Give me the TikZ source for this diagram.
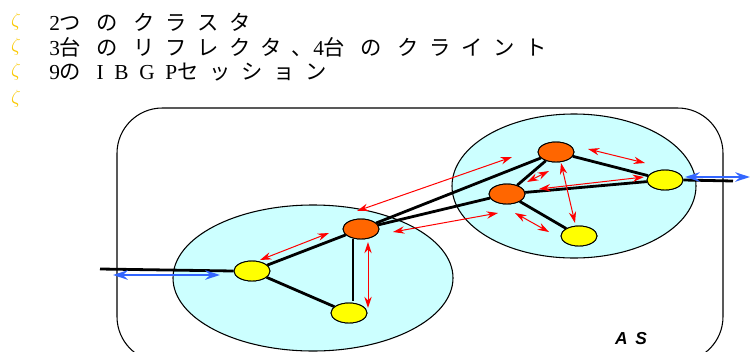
\documentclass[tikz,border=0pt]{standalone}
\usepackage{fontspec}
\setmainfont{Liberation Serif}
\newfontfamily\jp[LetterSpace=50]{Noto Sans CJK JP}
\newfontfamily\lat[LetterSpace=50]{Liberation Serif}
\newfontfamily\sanslabel[LetterSpace=45]{Liberation Sans}
\usepackage{xcolor}
\usetikzlibrary{arrows.meta,shapes.geometric}
\definecolor{clusterfill}{RGB}{204,255,255}
\definecolor{rrorange}{RGB}{255,102,0}
\definecolor{clientyel}{RGB}{255,255,0}
\definecolor{ebgpblue}{RGB}{51,102,255}
\definecolor{bulletc}{RGB}{250,200,0}
\tikzset{
  cluster/.style={draw,ellipse,fill=clusterfill,line width=0.8pt,inner sep=0pt},
  rr/.style={draw,ellipse,fill=rrorange,line width=0.7pt,inner sep=0pt,minimum width=27pt,minimum height=15pt},
  client/.style={draw,ellipse,fill=clientyel,line width=0.7pt,inner sep=0pt,minimum width=27pt,minimum height=15pt},
  link/.style={line width=2.1pt},
  ibgp/.style={red,line width=0.75pt,{Stealth[length=8.5pt,width=5.5pt]}-{Stealth[length=8.5pt,width=5.5pt]}},
  ebgp/.style={ebgpblue,line width=1.8pt,{Stealth[length=11pt,width=7pt]}-{Stealth[length=11pt,width=7pt]}},
  txt/.style={anchor=west,inner sep=0pt,font=\fontsize{16pt}{19pt}\selectfont},
}

\begin{document}
\begin{tikzpicture}[x=0.75pt,y=-0.75pt]
  \useasboundingbox (0,0) rectangle (750,351);
  \clip (0,0) rectangle (750,351);
  % bullets and text
  \foreach \yy/\nm in {22/b1,47/b2,72/b3,99/b4}
    \node[inner sep=0pt,text=bulletc,font=\fontsize{15pt}{18pt}\selectfont] (\nm) at (16,\yy) {$\zeta$};
  \node[txt] (t1) at (49,22) {\lat 2\jp つ の クラスタ};
  \node[txt] (t2) at (49,47) {\lat 3\jp 台 の リフレクタ、\lat 4\jp 台 の クライント};
  \node[txt] (t3) at (49,72) {\lat 9\jp の \lat IBGP\jp セッション};
  % AS
  \draw[line width=0.8pt,rounded corners=34pt] (117,108) rectangle (723,362);
  \node[font=\sanslabel\bfseries\itshape\fontsize{13pt}{15pt}\selectfont] (as) at (631,339) {AS};
  % clusters
  \node[cluster,minimum width=210pt,minimum height=109.5pt] (clA) at (313,278) {};
  \node[cluster,minimum width=183pt,minimum height=108pt] (clB) at (574,186) {};
  % routers
  \node[rr] (rA) at (361,229) {};
  \node[client] (cA1) at (252,271) {};
  \node[client] (cA2) at (349,313) {};
  \node[rr] (rB1) at (556,152) {};
  \node[rr] (rB2) at (507,194) {};
  \node[client] (cB1) at (665,180) {};
  \node[client] (cB2) at (579,236) {};
  \coordinate (extL) at (100,269);
  \coordinate (extR) at (733,181);
  % physical links
  \draw[link] (extL) -- (cA1.west);
  \draw[link] (cA1) -- (rA);
  \draw[link] (cA1) -- (cA2);
  \draw[link] ([xshift=-6pt]rA.south) -- ([xshift=-6pt,yshift=1pt]rA.south |- cA2.north);
  \draw[link] (rA) -- (rB1);
  \draw[link] (rA) -- (rB2);
  \draw[link] (rB1) -- (rB2);
  \draw[link] (rB1) -- (cB1);
  \draw[link] (rB2) -- (cB1);
  \draw[link] (rB2) -- (cB2);
  \draw[link] (cB1.east) -- (extR);
  \node[rr] at (rA) {};
  \node[client] at (cA1) {};
  \node[client] at (cA2) {};
  \node[rr] at (rB1) {};
  \node[rr] at (rB2) {};
  \node[client] at (cB1) {};
  \node[client] at (cB2) {};
  % iBGP sessions
  \coordinate (i1a) at (260,260); \coordinate (i1b) at (329,233);
  \coordinate (i2a) at (368,242); \coordinate (i2b) at (368,308);
  \coordinate (i3a) at (357,211); \coordinate (i3b) at (512,157);
  \coordinate (i4a) at (393,232); \coordinate (i4b) at (498,213);
  \coordinate (i5a) at (527,182); \coordinate (i5b) at (549,171);
  \coordinate (i6a) at (561,163); \coordinate (i6b) at (575,223);
  \coordinate (i7a) at (588,149); \coordinate (i7b) at (645,163);
  \coordinate (i8a) at (539,189); \coordinate (i8b) at (644,177);
  \coordinate (i9a) at (515,213); \coordinate (i9b) at (549,232);
  \foreach \n in {1,...,9}
    \draw[ibgp] (i\n a) -- (i\n b);
  % eBGP sessions
  \coordinate (e1a) at (113,275); \coordinate (e1b) at (220,275);
  \coordinate (e2a) at (685,177); \coordinate (e2b) at (750,177);
  \draw[ebgp] (e1a) -- (e1b);
  \draw[ebgp] (e2a) -- (e2b);
\end{tikzpicture}
\end{document}
